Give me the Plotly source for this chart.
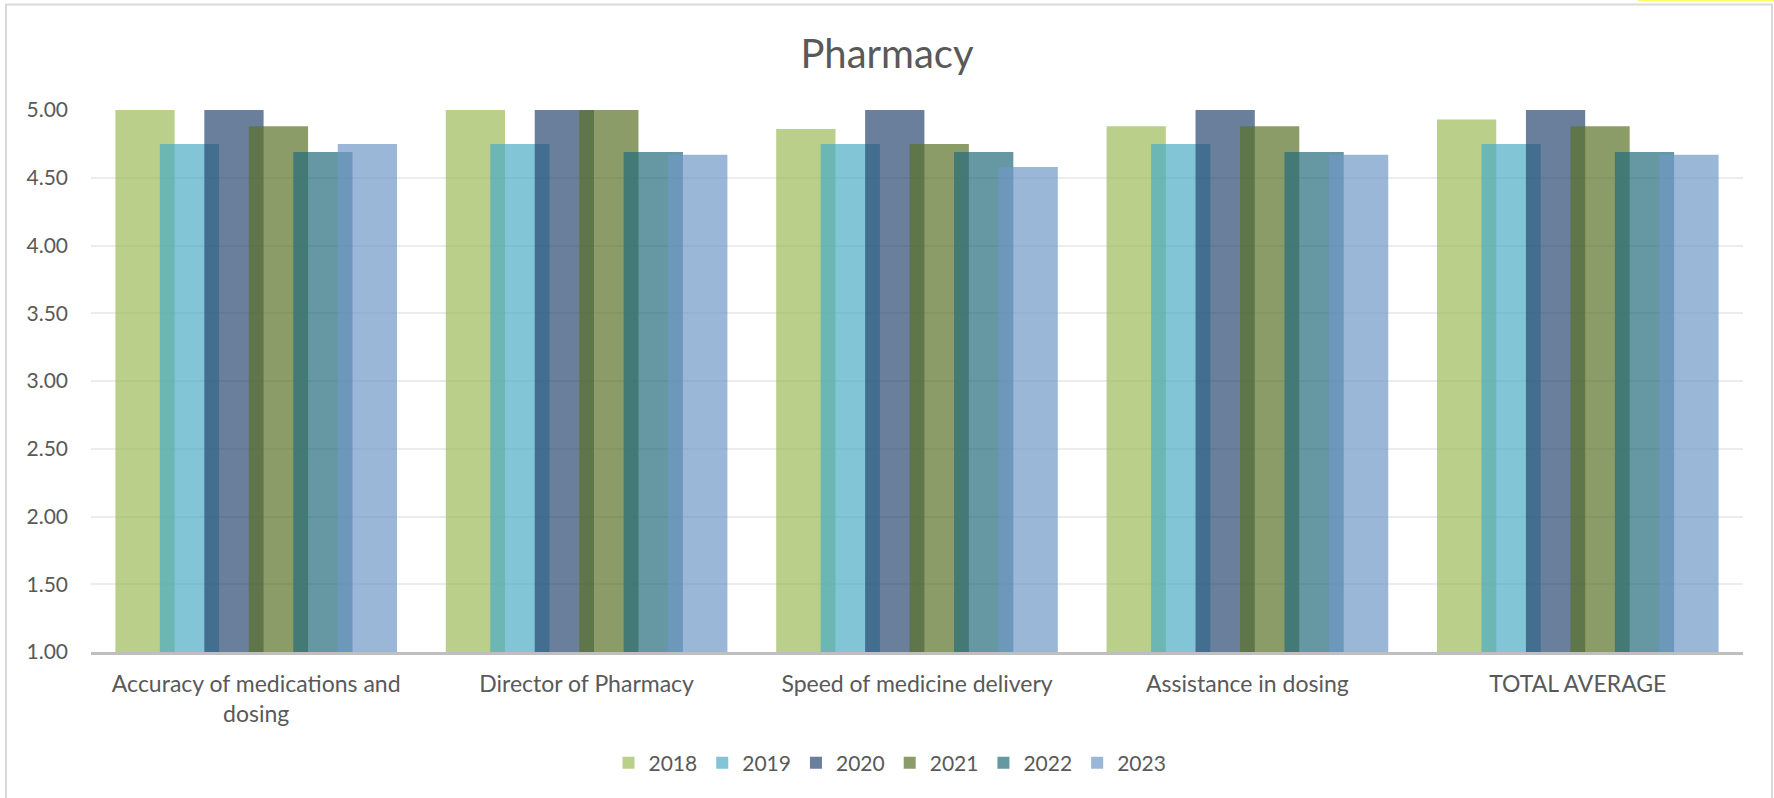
import plotly.graph_objects as go

# Survey categories and yearly average scores
categories = [
    "Accuracy of medications and<br>dosing",
    "Director of Pharmacy",
    "Speed of medicine delivery",
    "Assistance in dosing",
    "TOTAL AVERAGE",
]
years = ["2018", "2019", "2020", "2021", "2022", "2023"]

scores_2018 = [5.00, 5.00, 4.86, 4.88, 4.93]
scores_2019 = [4.75, 4.75, 4.75, 4.75, 4.75]
scores_2020 = [5.00, 5.00, 5.00, 5.00, 5.00]
scores_2021 = [4.88, 5.00, 4.75, 4.88, 4.88]
scores_2022 = [4.69, 4.69, 4.69, 4.69, 4.69]
scores_2023 = [4.75, 4.67, 4.58, 4.67, 4.67]

series = [scores_2018, scores_2019, scores_2020, scores_2021, scores_2022, scores_2023]

# Semi-transparent fills (bars overlap each other within a group)
colors = [
    "rgba(155,187,89,0.7)",
    "rgba(75,172,198,0.7)",
    "rgba(42,72,114,0.7)",
    "rgba(91,114,42,0.7)",
    "rgba(35,108,122,0.7)",
    "rgba(112,152,199,0.7)",
]

W, H = 1774, 798
ML, MR, MT, MB = 91, 31, 110, 146
plot_w = W - ML - MR
plot_h = H - MT - MB

bar_width = 0.1794     # fraction of a category slot
bar_step = 0.1346      # spacing between neighbouring bars (25% overlap)
first_offset = -(bar_step * (len(years) - 1) + bar_width) / 2

text_color = "#595959"
font_family = "Lato, 'Open Sans', sans-serif"

fig = go.Figure()
for i, (yr, vals, col) in enumerate(zip(years, series, colors)):
    fig.add_trace(go.Bar(
        name=yr,
        x=categories,
        y=vals,
        base=0,
        width=bar_width,
        offset=first_offset + i * bar_step,
        marker=dict(color=col, line=dict(width=0)),
    ))

# Chart frame and the small highlight strip on the top edge
def px_x(p):
    return (p - ML) / plot_w

def px_y(p):
    return (H - MB - p) / plot_h

shapes = [
    dict(type="rect", xref="paper", yref="paper",
         x0=px_x(6), x1=px_x(1772), y0=px_y(806), y1=px_y(4.5),
         line=dict(color="#d9d9d9", width=2), fillcolor="rgba(0,0,0,0)", layer="below"),
    dict(type="rect", xref="paper", yref="paper",
         x0=px_x(1638), x1=px_x(1774), y0=px_y(1.5), y1=px_y(0),
         line=dict(width=0), fillcolor="#ffff66", layer="above"),
]

fig.update_layout(
    width=W, height=H,
    margin=dict(l=ML, r=MR, t=MT, b=MB, pad=0),
    paper_bgcolor="white", plot_bgcolor="white",
    barmode="overlay",
    title=dict(text="Pharmacy", x=0.5, xanchor="center",
               y=1 - 54 / H, yanchor="middle", yref="container",
               font=dict(family=font_family, size=40, color=text_color)),
    font=dict(family=font_family, color=text_color),
    xaxis=dict(
        type="category",
        range=[-0.5, 4.5],
        showgrid=False,
        showline=True, linecolor="#bfbfbf", linewidth=3,
        ticks="", ticklabelstandoff=9,
        tickfont=dict(family=font_family, size=23, color=text_color),
        fixedrange=True,
    ),
    yaxis=dict(
        range=[1, 5],
        tickvals=[1, 1.5, 2, 2.5, 3, 3.5, 4, 4.5, 5],
        tickformat=".2f",
        showgrid=True, gridcolor="#ececec", gridwidth=1.5,
        zeroline=False, showline=False,
        ticks="", ticklabelstandoff=22,
        tickfont=dict(family=font_family, size=21, color=text_color),
    ),
    legend=dict(
        orientation="h",
        x=px_x(890), xanchor="center",
        y=px_y(763), yanchor="middle",
        font=dict(family=font_family, size=21, color=text_color),
        itemwidth=30, traceorder="normal",
        bgcolor="rgba(0,0,0,0)",
    ),
    shapes=shapes,
    showlegend=True,
)

fig.write_html("out.html")
